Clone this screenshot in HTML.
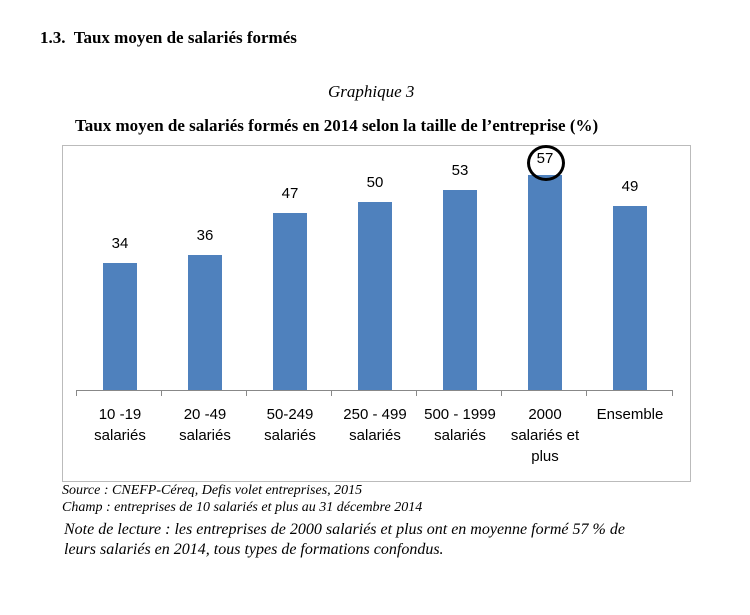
<!DOCTYPE html>
<html><head><meta charset="utf-8"><style>
body{margin:0;width:750px;height:615px;background:#fff;position:relative;font-family:"Liberation Serif",serif;color:#000;overflow:hidden}
.a{position:absolute;white-space:nowrap}
.bar{position:absolute;background:#4f81bd;width:34px}
.v{position:absolute;font-family:"Liberation Sans",sans-serif;font-size:15px;width:60px;text-align:center}
.l{position:absolute;font-family:"Liberation Sans",sans-serif;font-size:15px;width:90px;text-align:center;line-height:21px;top:404px}
.t{position:absolute;top:390px;width:1px;height:6px;background:#888}
</style></head><body>
<div class="a" style="left:40px;top:28px;font-size:17px;font-weight:bold">1.3.&nbsp; Taux moyen de salariés formés</div>
<div class="a" style="left:328px;top:82px;font-size:17px;font-style:italic">Graphique 3</div>
<div class="a" style="left:75px;top:116px;font-size:17px;font-weight:bold">Taux moyen de salariés formés en 2014 selon la taille de l’entreprise (%)</div>
<div class="a" style="left:62px;top:145px;width:627px;height:335px;border:1px solid #bbb"></div>
<div class="a" style="left:76px;top:390px;width:597px;height:1px;background:#888"></div>
<div class="t" style="left:76px"></div><div class="t" style="left:161px"></div><div class="t" style="left:246px"></div><div class="t" style="left:331px"></div><div class="t" style="left:416px"></div><div class="t" style="left:501px"></div><div class="t" style="left:586px"></div><div class="t" style="left:672px"></div>
<div class="bar" style="left:103px;top:263px;height:127px"></div>
<div class="bar" style="left:188px;top:255px;height:135px"></div>
<div class="bar" style="left:273px;top:213px;height:177px"></div>
<div class="bar" style="left:358px;top:202px;height:188px"></div>
<div class="bar" style="left:443px;top:190px;height:200px"></div>
<div class="bar" style="left:528px;top:175px;height:215px"></div>
<div class="bar" style="left:613px;top:206px;height:184px"></div>
<div class="v" style="left:90px;top:235px">34</div>
<div class="v" style="left:175px;top:227px">36</div>
<div class="v" style="left:260px;top:185px">47</div>
<div class="v" style="left:345px;top:174px">50</div>
<div class="v" style="left:430px;top:162px">53</div>
<div class="v" style="left:515px;top:150px">57</div>
<div class="v" style="left:600px;top:178px">49</div>
<div class="a" style="left:527px;top:145px;width:32px;height:30px;border:3px solid #000;border-radius:50%"></div>
<div class="l" style="left:75px">10 -19<br>salariés</div>
<div class="l" style="left:160px">20 -49<br>salariés</div>
<div class="l" style="left:245px">50-249<br>salariés</div>
<div class="l" style="left:330px">250 - 499<br>salariés</div>
<div class="l" style="left:415px">500 - 1999<br>salariés</div>
<div class="l" style="left:500px">2000<br>salariés et<br>plus</div>
<div class="l" style="left:585px">Ensemble</div>
<div class="a" style="left:62px;top:483px;font-size:14px;font-style:italic">Source : CNEFP-Céreq, Defis volet entreprises, 2015</div>
<div class="a" style="left:62px;top:500px;font-size:14px;font-style:italic">Champ : entreprises de 10 salariés et plus au 31 décembre 2014</div>
<div class="a" style="left:64px;top:520px;font-size:16px;font-style:italic;line-height:20px">Note de lecture : les entreprises de 2000 salariés et plus ont en moyenne formé 57 % de<br>leurs salariés en 2014, tous types de formations confondus.</div>
</body></html>
